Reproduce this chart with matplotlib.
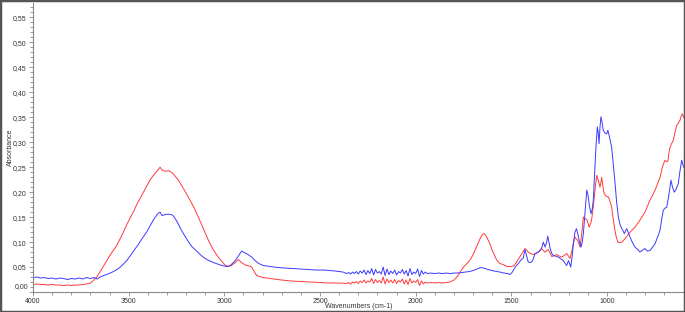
import numpy as np
import matplotlib
matplotlib.use('Agg')
import matplotlib.pyplot as plt
from matplotlib.ticker import MultipleLocator, FuncFormatter
from matplotlib.patches import Rectangle

plt.rcParams['font.family'] = ['Liberation Sans', 'DejaVu Sans']

# blue spectrum (wavenumber, absorbance)
blue_wn = [4000, 3980, 3960, 3940, 3920, 3900, 3880, 3860, 3840, 3820, 3800, 3780, 3760, 3740, 3720, 3700,
           3680, 3665, 3650, 3630, 3610, 3590, 3570, 3550, 3530, 3510, 3493, 3470, 3450, 3430, 3406, 3385,
           3365, 3345, 3336, 3325, 3310, 3290, 3270, 3250, 3230, 3214, 3190, 3170, 3145, 3120, 3100, 3075,
           3050, 3020, 3000, 2985, 2970, 2950, 2930, 2910, 2895, 2880, 2857, 2840, 2820, 2796, 2760, 2720,
           2680, 2640, 2600, 2560, 2520, 2480, 2448, 2420, 2400, 2380, 2361,
           2350, 2340, 2330, 2320, 2310, 2300, 2290, 2280, 2270, 2260, 2250, 2240, 2230, 2220, 2210, 2200,
           2190, 2180, 2170, 2160, 2150, 2140, 2130, 2120, 2110, 2100, 2090, 2080, 2070, 2060, 2050, 2040,
           2030, 2020, 2010, 2000, 1990, 1980, 1970, 1960, 1950, 1940,
           1920, 1900, 1880, 1860, 1840, 1820, 1800, 1780, 1760, 1740, 1720, 1700, 1680, 1660, 1645, 1630,
           1612, 1590, 1560, 1540, 1520, 1507, 1495, 1480, 1464, 1450, 1438, 1429, 1420, 1412, 1400, 1390,
           1376, 1360, 1350, 1340, 1333, 1324, 1317, 1310, 1303, 1298, 1290, 1281, 1270, 1255, 1240, 1229,
           1220, 1211, 1202, 1195, 1190, 1183, 1176, 1168, 1160, 1152, 1146, 1136, 1130, 1124, 1115, 1106,
           1100, 1094, 1084, 1078, 1072, 1066, 1059, 1051, 1046, 1042, 1037, 1032, 1026, 1020, 1010, 1002,
           996, 990, 976, 966, 958, 950, 941, 932, 923, 916, 910, 904, 897, 890, 880, 866,
           854, 840, 828, 815, 802, 790, 776, 762, 749, 736, 723, 715, 706, 697, 688, 677,
           666, 658, 649, 640, 628, 620, 610, 600]
blue_abs = [0.029, 0.030, 0.028, 0.029, 0.027, 0.028, 0.026, 0.028, 0.027, 0.025, 0.027, 0.026, 0.028, 0.026, 0.029, 0.027,
            0.029, 0.026, 0.030, 0.033, 0.036, 0.039, 0.043, 0.048, 0.055, 0.063, 0.072, 0.084, 0.095, 0.107, 0.120, 0.135,
            0.148, 0.158, 0.160, 0.153, 0.155, 0.156, 0.154, 0.143, 0.128, 0.117, 0.102, 0.091, 0.082, 0.073, 0.067, 0.062,
            0.058, 0.054, 0.052, 0.051, 0.053, 0.060, 0.070, 0.082, 0.079, 0.076, 0.070, 0.063, 0.057, 0.053, 0.051, 0.049,
            0.048, 0.047, 0.046, 0.045, 0.044, 0.044, 0.043, 0.042, 0.041, 0.040, 0.037,
            0.039, 0.036, 0.040, 0.037, 0.041, 0.036, 0.042, 0.038, 0.044, 0.035, 0.043, 0.037, 0.047, 0.034, 0.045, 0.038,
            0.041, 0.036, 0.050, 0.033, 0.046, 0.035, 0.042, 0.037, 0.044, 0.034, 0.041, 0.038, 0.045, 0.036, 0.043, 0.032,
            0.047, 0.035, 0.040, 0.037, 0.046, 0.031, 0.043, 0.036, 0.040, 0.037,
            0.038, 0.037, 0.038, 0.037, 0.038, 0.037, 0.038, 0.038, 0.039, 0.040, 0.041, 0.043, 0.046, 0.049, 0.048, 0.046,
            0.044, 0.042, 0.040, 0.038, 0.037, 0.035, 0.040, 0.050, 0.057, 0.064, 0.068, 0.085, 0.072, 0.060, 0.059, 0.062,
            0.077, 0.080, 0.083, 0.090, 0.100, 0.090, 0.098, 0.112, 0.098, 0.088, 0.078, 0.073, 0.072, 0.070, 0.066, 0.063,
            0.058, 0.053, 0.063, 0.056, 0.050, 0.070, 0.097, 0.120, 0.127, 0.115, 0.103, 0.090, 0.100, 0.117, 0.160, 0.204,
            0.195, 0.177, 0.157, 0.165, 0.184, 0.230, 0.284, 0.331, 0.318, 0.297, 0.330, 0.351, 0.340, 0.324, 0.318, 0.317,
            0.324, 0.315, 0.290, 0.250, 0.217, 0.180, 0.150, 0.135, 0.127, 0.122, 0.117, 0.122, 0.127, 0.120, 0.110, 0.098,
            0.090, 0.085, 0.080, 0.084, 0.087, 0.082, 0.083, 0.090, 0.097, 0.110, 0.124, 0.145, 0.164, 0.168, 0.170, 0.195,
            0.224, 0.210, 0.200, 0.205, 0.217, 0.240, 0.264, 0.250]

# red spectrum (wavenumber, absorbance)
red_wn = [4000, 3980, 3960, 3940, 3920, 3900, 3880, 3860, 3840, 3820, 3800, 3780, 3760, 3740, 3720, 3700,
          3685, 3667, 3650, 3630, 3610, 3590, 3563, 3540, 3510, 3490, 3470, 3458, 3440, 3420, 3400, 3389,
          3370, 3350, 3336, 3325, 3310, 3290, 3270, 3240, 3215, 3188, 3160, 3136, 3110, 3084, 3060, 3032,
          3010, 2997, 2979, 2960, 2940, 2927, 2910, 2890, 2870, 2857, 2843, 2831, 2800, 2761, 2700, 2650,
          2600, 2550, 2500, 2448, 2400, 2361,
          2350, 2340, 2330, 2320, 2310, 2300, 2290, 2280, 2270, 2260, 2250, 2240, 2230, 2220, 2210, 2200,
          2190, 2180, 2170, 2160, 2150, 2140, 2130, 2120, 2110, 2100, 2090, 2080, 2070, 2060, 2050, 2040,
          2030, 2020, 2010, 2000, 1990, 1980, 1970, 1960, 1950, 1940,
          1920, 1900, 1880, 1860, 1840, 1821, 1800, 1780, 1768, 1750, 1730, 1716, 1700, 1685, 1673, 1660,
          1650, 1643, 1635, 1625, 1612, 1600, 1590, 1577, 1560, 1542, 1524, 1500, 1485, 1473, 1460, 1446,
          1435, 1429, 1420, 1412, 1400, 1385, 1370, 1359, 1350, 1342, 1333, 1324, 1315, 1307, 1298, 1289,
          1275, 1263, 1250, 1237, 1225, 1211, 1202, 1194, 1185, 1175, 1167, 1160, 1153, 1147, 1141, 1133,
          1124, 1115, 1106, 1100, 1094, 1088, 1081, 1074, 1067, 1060, 1054, 1050, 1046, 1041, 1037, 1032,
          1028, 1022, 1015, 1005, 993, 985, 976, 970, 962, 953, 944, 935, 923, 915, 906, 893,
          880, 867, 854, 841, 828, 815, 802, 789, 776, 762, 749, 736, 723, 717, 711, 704,
          697, 689, 682, 677, 671, 663, 654, 645, 636, 628, 619, 613, 607, 600]
red_abs = [0.015, 0.016, 0.015, 0.015, 0.014, 0.015, 0.014, 0.014, 0.013, 0.014, 0.013, 0.014, 0.014, 0.015, 0.016, 0.018,
           0.023, 0.030, 0.040, 0.053, 0.066, 0.078, 0.093, 0.110, 0.135, 0.150, 0.165, 0.175, 0.188, 0.202, 0.216, 0.224,
           0.234, 0.243, 0.250, 0.244, 0.242, 0.243, 0.238, 0.224, 0.208, 0.190, 0.170, 0.150, 0.127, 0.104, 0.086, 0.070,
           0.060, 0.054, 0.051, 0.054, 0.060, 0.065, 0.059, 0.054, 0.052, 0.050, 0.040, 0.033, 0.029, 0.027, 0.024, 0.022,
           0.021, 0.020, 0.019, 0.018, 0.018, 0.017,
           0.019, 0.016, 0.020, 0.018, 0.021, 0.017, 0.022, 0.019, 0.024, 0.018, 0.022, 0.020, 0.027, 0.017, 0.025, 0.019,
           0.023, 0.018, 0.030, 0.016, 0.026, 0.019, 0.024, 0.018, 0.025, 0.017, 0.023, 0.020, 0.026, 0.016, 0.024, 0.015,
           0.027, 0.018, 0.022, 0.019, 0.025, 0.013, 0.022, 0.016, 0.020, 0.018,
           0.019, 0.018, 0.019, 0.018, 0.019, 0.020, 0.024, 0.032, 0.040, 0.050, 0.058, 0.064, 0.075, 0.088, 0.098, 0.110,
           0.116, 0.117, 0.114, 0.107, 0.096, 0.083, 0.075, 0.064, 0.057, 0.055, 0.051, 0.051, 0.053, 0.060, 0.068, 0.077,
           0.083, 0.087, 0.084, 0.080, 0.077, 0.075, 0.078, 0.080, 0.084, 0.087, 0.083, 0.080, 0.083, 0.085, 0.078, 0.071,
           0.073, 0.075, 0.072, 0.070, 0.073, 0.077, 0.072, 0.067, 0.080, 0.100, 0.110, 0.106, 0.103, 0.096, 0.090, 0.115,
           0.150, 0.147, 0.145, 0.138, 0.130, 0.135, 0.144, 0.165, 0.190, 0.215, 0.234, 0.228, 0.224, 0.216, 0.210, 0.220,
           0.230, 0.212, 0.197, 0.192, 0.190, 0.182, 0.170, 0.152, 0.130, 0.112, 0.100, 0.099, 0.100, 0.103, 0.107, 0.113,
           0.120, 0.125, 0.130, 0.137, 0.144, 0.152, 0.160, 0.172, 0.184, 0.194, 0.204, 0.217, 0.230, 0.240, 0.250, 0.258,
           0.264, 0.261, 0.262, 0.278, 0.290, 0.297, 0.304, 0.320, 0.334, 0.338, 0.344, 0.352, 0.357, 0.350]

fig = plt.figure(figsize=(6.85, 3.12), dpi=100)
ax = fig.add_axes([33 / 685, 20 / 312, 651 / 685, 289 / 312])

ax.plot(red_wn, red_abs, color='#ff3a3a', lw=0.7)
ax.plot(blue_wn, blue_abs, color='#3a3aff', lw=0.7)

ax.set_xlim(4000, 598)
ax.set_ylim(0, 0.579)

ax.xaxis.set_major_locator(MultipleLocator(500))
ax.xaxis.set_minor_locator(MultipleLocator(100))
ax.yaxis.set_major_locator(MultipleLocator(0.05))
ax.yaxis.set_minor_locator(MultipleLocator(0.01))
# the 0,00 label is drawn separately, lifted above the axis line
ax.yaxis.set_major_formatter(FuncFormatter(
    lambda v, p: '' if abs(v) < 1e-9 else f'{v:.2f}'.replace('.', ',')))
ax.xaxis.set_major_formatter(FuncFormatter(lambda v, p: f'{v:.0f}'))

for s in ['top', 'right']:
    ax.spines[s].set_visible(False)
for s in ['left', 'bottom']:
    ax.spines[s].set_color('#888888')
    ax.spines[s].set_linewidth(0.8)

fs = 5
ax.tick_params(which='both', colors='#888888', labelcolor='#333333', labelsize=fs, width=0.6)
ax.tick_params(which='major', length=3, pad=1.5)
ax.tick_params(which='minor', length=2)
ax.tick_params(axis='x', pad=1)

ax.text(-4.5 / 651, 0.003, '0,00', transform=ax.get_yaxis_transform(), ha='right', va='bottom',
        fontsize=fs, color='#333333')

ax.set_xlabel('Wavenumbers (cm-1)', fontsize=fs, color='#333333')
ax.xaxis.set_label_coords(0.5, -14.5 / 289)
ax.xaxis.label.set_va('center')
ax.set_ylabel('Absorbance', fontsize=fs, color='#333333')
ax.yaxis.set_label_coords(-23 / 651, 0.5)
ax.yaxis.label.set_va('center')

fig.patches.append(Rectangle((0, 0), 1, 1, transform=fig.transFigure, fill=False,
                             edgecolor='#555555', linewidth=2.5))

fig.savefig('out.png', dpi=100)
